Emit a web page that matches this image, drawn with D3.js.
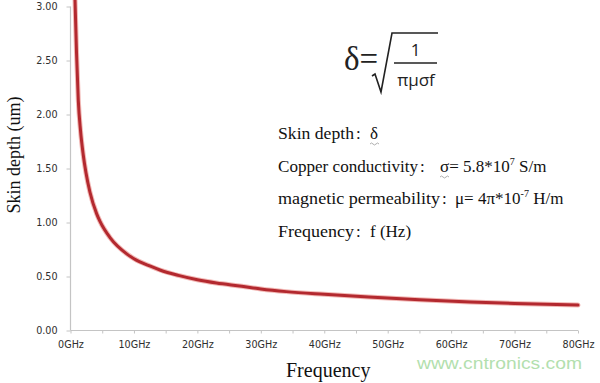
<!DOCTYPE html>
<html>
<head>
<meta charset="utf-8">
<script src="https://cdn.jsdelivr.net/npm/d3@7/dist/d3.min.js"></script>
<style>
  html, body { margin: 0; padding: 0; background: #fff; }
  svg { display: block; }
</style>
</head>
<body>
<svg id="chart" width="600" height="383"></svg>
<script>
// ---- data ----
const freqGHz = [0.71, 0.95, 1.23, 1.58, 2.0, 2.44, 3.07, 4.13, 4.65, 6.23, 8.86, 10, 12.6, 14.1, 17, 20, 23, 27, 30, 34, 40, 47, 55, 63, 70, 80];
const skinDepthUm = [3.06, 2.57, 2.13, 1.85, 1.63, 1.46, 1.28, 1.08, 1.01, 0.86, 0.71, 0.665, 0.595, 0.56, 0.51, 0.47, 0.44, 0.41, 0.385, 0.36, 0.335, 0.31, 0.285, 0.265, 0.25, 0.235];
const xTickValues = [0, 5, 10, 15, 20, 25, 30, 35, 40, 45, 50, 55, 60, 65, 70, 75, 80];
const xLabelValues = [0, 10, 20, 30, 40, 50, 60, 70, 80];
const yTickValues = [0, 0.5, 1.0, 1.5, 2.0, 2.5, 3.0];
const yTitle = "Skin depth (um)";
const xTitle = "Frequency";
const legendLabels = ["Skin depth", "Copper conductivity", "magnetic permeability", "Frequency"];
const watermark = "www.cntronics.com";

const svg = d3.select("#chart");
const x = d3.scaleLinear().domain([0, 80]).range([70.5, 578]);
const y = d3.scaleLinear().domain([0, 3]).range([330.5, 6.5]);

// axes
const axisColor = "#c4c4c4";
const labelColor = "#2e2e2e";
const xAxis = d3.axisBottom(x).tickValues(xTickValues).tickSize(3).tickPadding(8)
  .tickFormat(d => xLabelValues.includes(d) ? d + "GHz" : "");
const yAxis = d3.axisLeft(y).tickValues(yTickValues).tickSize(4).tickPadding(9)
  .tickFormat(d3.format(".2f"));

const gx = svg.append("g").attr("transform", `translate(0,${y(0)})`).call(xAxis);
const gy = svg.append("g").attr("transform", `translate(${x(0)},0)`).call(yAxis);
[gx, gy].forEach(g => {
  g.select(".domain").attr("stroke", axisColor).attr("stroke-width", 1.2);
  g.selectAll(".tick line").attr("stroke", axisColor).attr("stroke-width", 1);
  g.selectAll(".tick text").attr("fill", labelColor)
    .attr("font-family", "'DejaVu Sans', sans-serif").attr("font-size", 9.6);
});
gy.select(".domain").attr("d", `M0,${y(0)}V${y(3)}`);
gx.select(".domain").attr("d", `M${x(0)},0H${x(80)}`);

// curve
const pts = freqGHz.map((f, i) => [f, skinDepthUm[i]]);
const line = d3.line().x(d => x(d[0])).y(d => y(d[1])).curve(d3.curveMonotoneX);
svg.append("path").datum(pts).attr("d", line).attr("fill", "none")
  .attr("stroke", "#f2b9b6").attr("stroke-width", 5).attr("stroke-linecap", "round");
svg.append("path").datum(pts).attr("d", line).attr("fill", "none")
  .attr("stroke", "#b3292f").attr("stroke-width", 3).attr("stroke-linecap", "round");

// axis titles
svg.append("text").attr("transform", "translate(20,155) rotate(-90)")
  .attr("text-anchor", "middle").attr("font-family", "'Liberation Serif', serif")
  .attr("font-size", 18).attr("fill", "#111").text(yTitle);
svg.append("text").attr("x", 286).attr("y", 377)
  .attr("font-family", "'Liberation Serif', serif").attr("font-size", 20)
  .attr("fill", "#111").text(xTitle);

// formula
const serif = "'Liberation Serif', serif";
const fg = svg.append("g").attr("fill", "#222");
fg.append("text").attr("x", 344).attr("y", 70).attr("font-family", serif)
  .attr("font-size", 33).text("δ=");
fg.append("path").attr("d", "M372,76 L375,74 L381,92 L392,33 L438,33")
  .attr("fill", "none").attr("stroke", "#222").attr("stroke-width", 1.6);
fg.append("line").attr("x1", 394).attr("x2", 437).attr("y1", 63).attr("y2", 63)
  .attr("stroke", "#222").attr("stroke-width", 1.3);
fg.append("text").attr("x", 415.5).attr("y", 56).attr("text-anchor", "middle")
  .attr("font-family", "'Open Sans', sans-serif").attr("font-size", 17).text("1");
fg.append("text").attr("x", 416).attr("y", 86).attr("text-anchor", "middle")
  .attr("font-family", "'Open Sans', sans-serif").attr("font-size", 17).text("πμσf");

// legend-like text block
const tb = svg.append("g").attr("font-family", serif).attr("font-size", 17).attr("fill", "#111");
const rows = [
  { y: 139, len: 76, colonX: 356, valX: 370, parts: [["δ", null]] },
  { y: 172, len: 140, colonX: 420, valX: 440, parts: [["σ= 5.8*10", null], ["7", "sup"], [" S/m", null]] },
  { y: 204, len: 162, colonX: 442, valX: 455, parts: [["μ= 4π*10", null], ["-7", "sup"], [" H/m", null]] },
  { y: 237, len: 76, colonX: 356, valX: 370, parts: [["f (Hz)", null]] }
];
rows.forEach((r, i) => {
  tb.append("text").attr("x", 278).attr("y", r.y)
    .attr("textLength", r.len).attr("lengthAdjust", "spacingAndGlyphs").text(legendLabels[i]);
  tb.append("text").attr("x", r.colonX).attr("y", r.y).text(":");
  const t = tb.append("text").attr("x", r.valX).attr("y", r.y);
  r.parts.forEach(p => {
    if (p[1] === "sup") {
      t.append("tspan").attr("font-size", 10).attr("dy", -7).text(p[0]);
    } else {
      const s = t.append("tspan").text(p[0]);
      if (t.selectAll("tspan").size() > 1) s.attr("dy", 7);
    }
  });
});
// spell-check squiggles under δ and σ
svg.append("path").attr("d", "M370,144 q1.5,-2 3,0 t3,0 t3,0").attr("fill", "none")
  .attr("stroke", "#9a9a9a").attr("stroke-width", 0.8);
svg.append("path").attr("d", "M440,177 q1.5,-2 3,0 t3,0 t3,0").attr("fill", "none")
  .attr("stroke", "#9a9a9a").attr("stroke-width", 0.8);

// watermark
svg.append("text").attr("x", 417).attr("y", 369)
  .attr("font-family", "'Liberation Sans', Arial, sans-serif").attr("font-size", 17)
  .attr("textLength", 165).attr("lengthAdjust", "spacingAndGlyphs")
  .attr("fill", "#b3dfae").text(watermark);
</script>
</body>
</html>
